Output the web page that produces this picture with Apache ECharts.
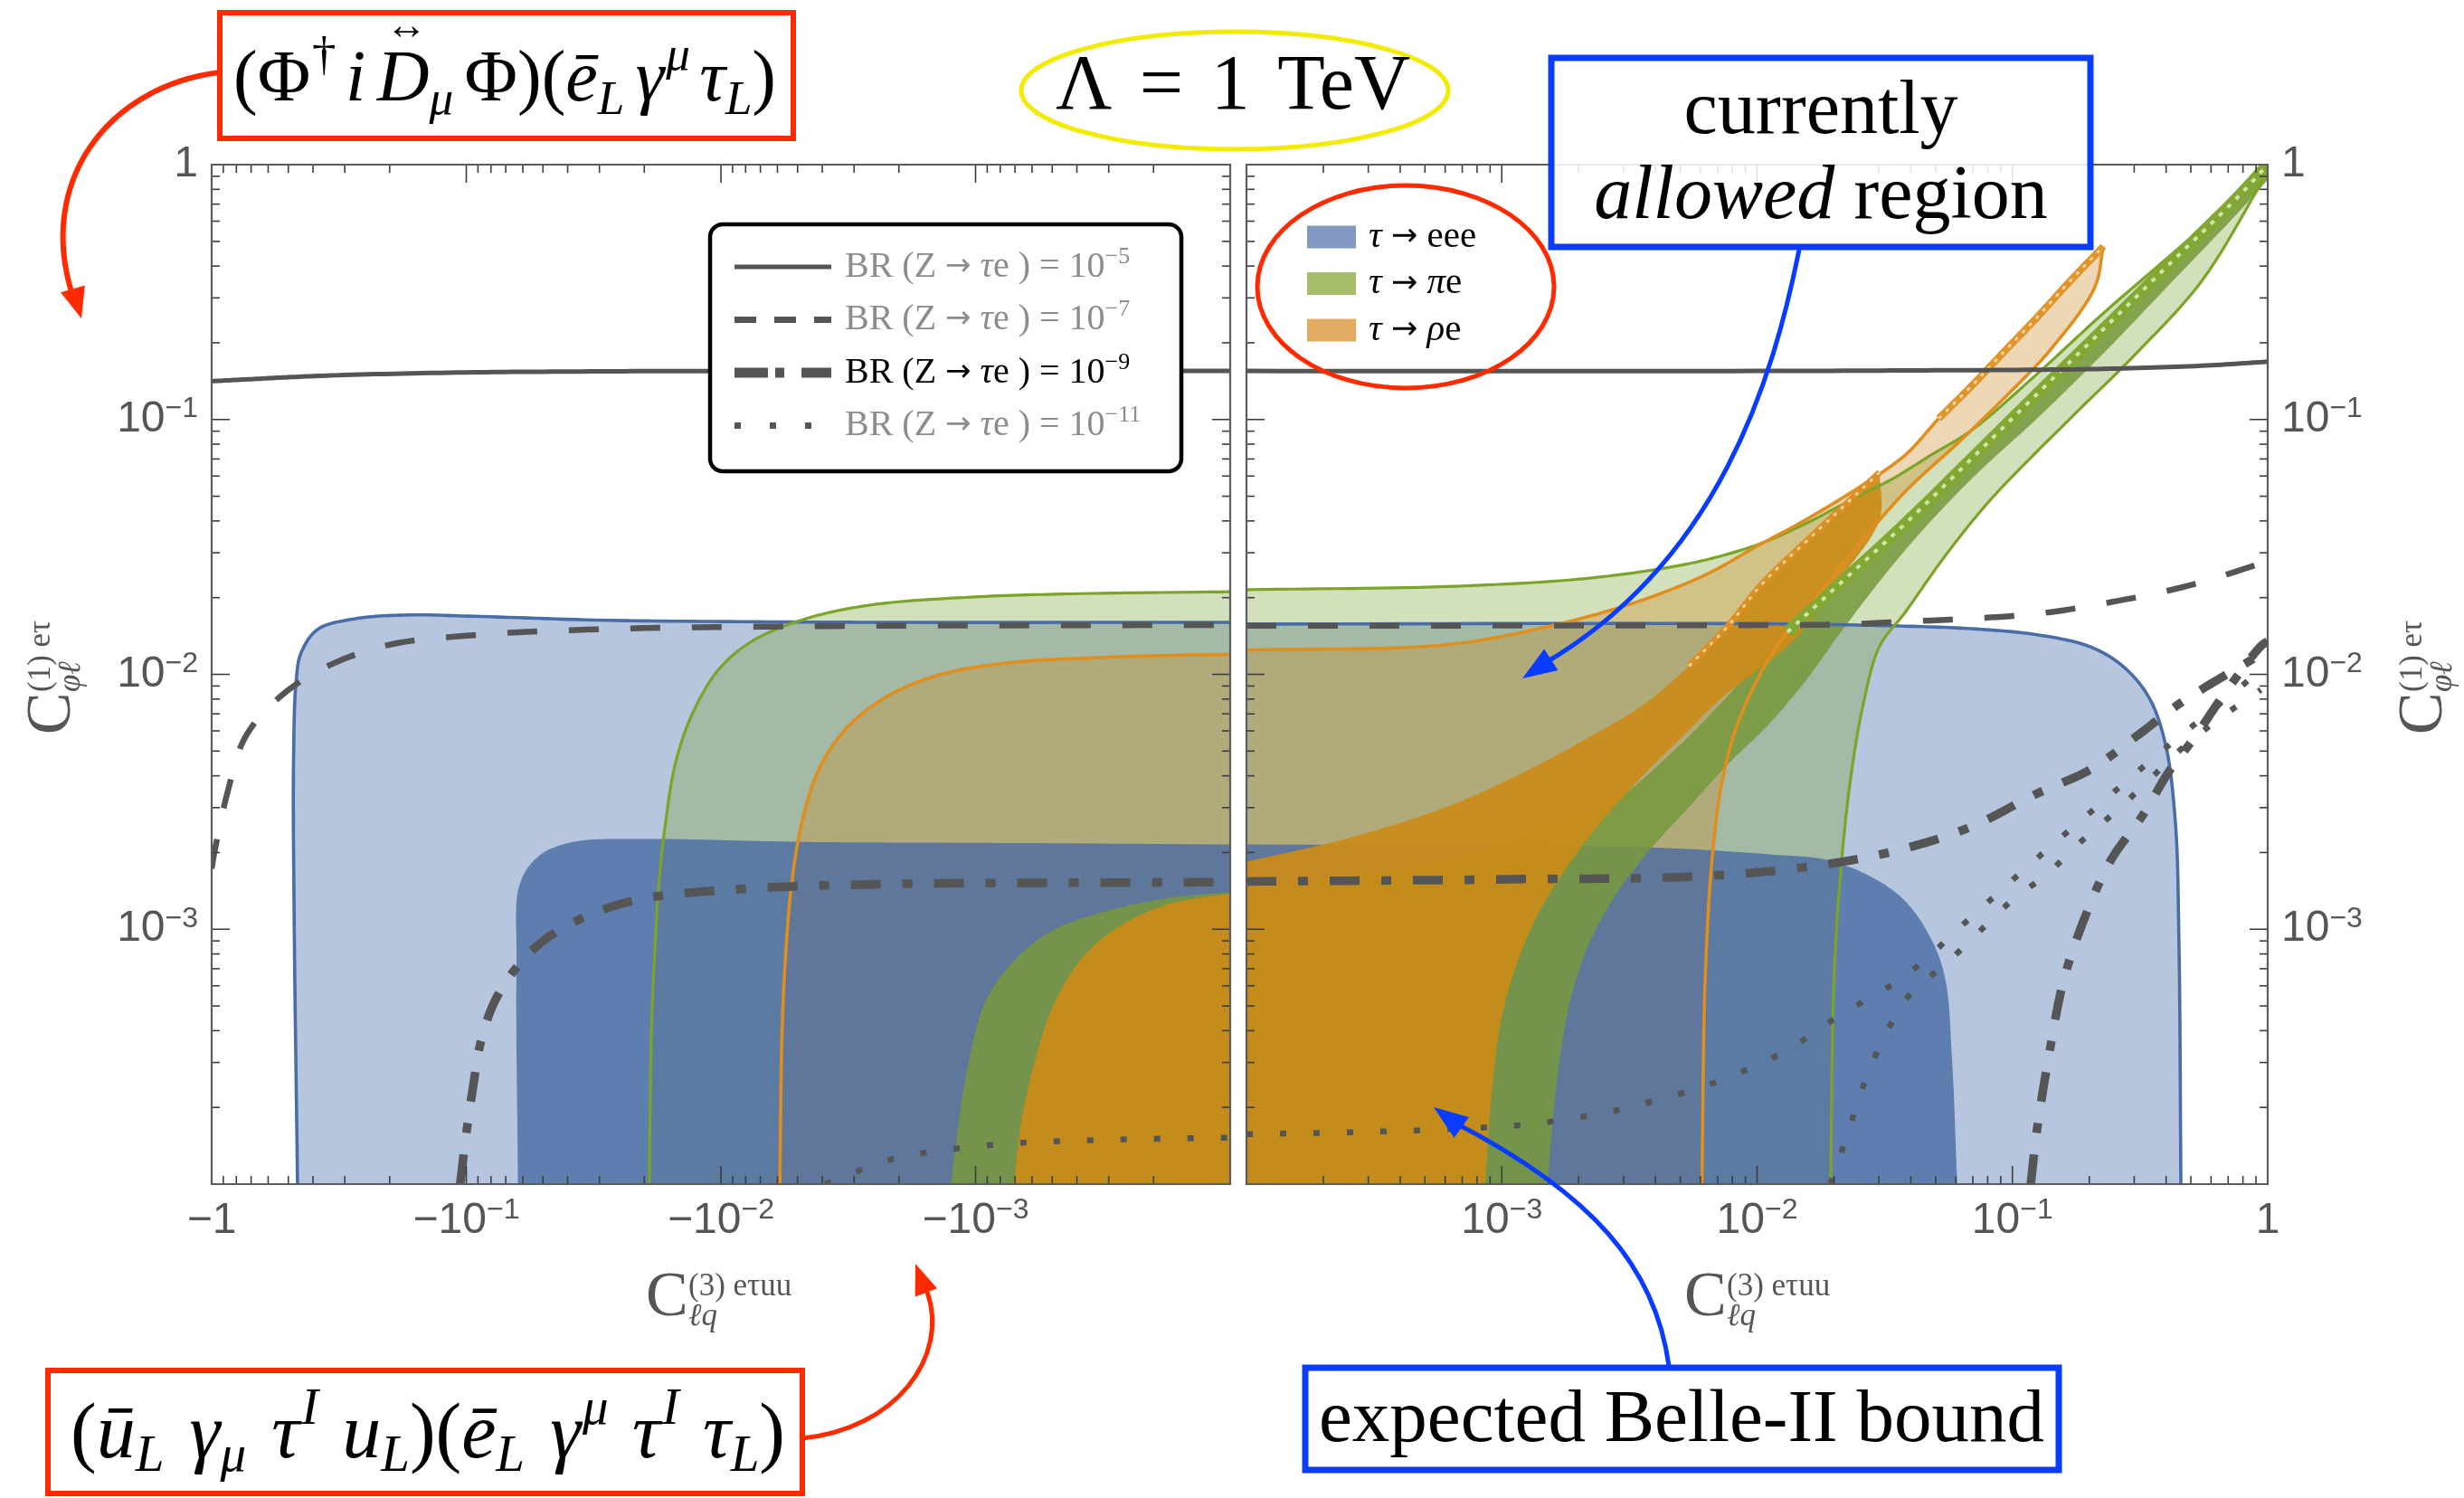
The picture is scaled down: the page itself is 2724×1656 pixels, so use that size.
<!DOCTYPE html>
<html>
<head>
<meta charset="utf-8">
<title>LFV Z couplings vs tau decays</title>
<script src="https://cdn.jsdelivr.net/npm/echarts/dist/echarts.min.js"></script>
<style>
  html, body { margin: 0; padding: 0; background: #ffffff; }
  #chart { width: 2724px; height: 1656px; }
</style>
</head>
<body>
<div id="chart"></div>
<script>
// ----------------------------------------------------------------------------
// Data. Both panels share log axes from 1e-4 to 1. In the left panel the
// x values are the magnitude of the (negative) coefficient C_lq^(3).
// Every curve is a list of [x, y] pairs.
// ----------------------------------------------------------------------------

// tau -> e e e : present bound (light) and Belle-II projection (dark)
const eeeNowNeg = [[1e-4,0.0160],[2.56e-3,0.0160],[8.5e-3,0.0161],[0.0283,0.0163],[0.0937,0.0169],[0.171,0.0171],[0.276,0.0165],[0.384,0.0150],[0.446,0.0121],[0.466,0.00935],[0.477,0.00452],[0.474,0.00105],[0.46,1e-4]];
const eeeFutNeg = [[1e-4,2.15e-3],[7.73e-4,2.18e-3],[4.67e-3,2.2e-3],[0.0209,2.26e-3],[0.0381,2.2e-3],[0.0515,1.95e-3],[0.0616,1.51e-3],[0.0635,7.3e-4],[0.0627,1e-4]];
const eeeNowPos = [[1e-4,0.01575],[0.01,0.0158],[0.034,0.0155],[0.0693,0.0151],[0.125,0.0143],[0.201,0.01285],[0.271,0.01076],[0.343,8.1e-3],[0.398,5.3e-3],[0.435,2.61e-3],[0.449,9.0e-4],[0.457,1e-4]];
const eeeFutPos = [[1e-4,2.15e-3],[3.56e-3,2.1e-3],[0.0117,1.96e-3],[0.0188,1.87e-3],[0.0285,1.59e-3],[0.0383,1.28e-3],[0.0485,9.0e-4],[0.0547,6.3e-4],[0.058,3.1e-4],[0.0608,1e-4]];

// tau -> pi e
const piNowNeg = [[1e-4,0.0211],[4.24e-4,0.0207],[1.04e-3,0.0201],[2.56e-3,0.01874],[4.67e-3,0.0165],[7.55e-3,0.01349],[0.0102,0.01046],[0.01295,7.0e-3],[0.01506,4.52e-3],[0.0165,2.62e-3],[0.0175,1.52e-3],[0.0183,7.3e-4],[0.0188,3.52e-4],[0.0191,1e-4]];
const piFutNeg = [[1e-4,1.4e-3],[1.72e-4,1.33e-3],[3.14e-4,1.17e-3],[5.07e-4,9.8e-4],[7.27e-4,7.3e-4],[9.25e-4,5.08e-4],[1.07e-3,2.94e-4],[1.17e-3,1.7e-4],[1.25e-3,1e-4]];
const piNowPosUpper = [[1e-4,0.0215],[6.03e-4,0.0221],[1.97e-3,0.0236],[4.02e-3,0.0258],[6.45e-3,0.0283],[0.0104,0.0327],[0.0157,0.0393],[0.0238,0.0489],[0.034,0.0586],[0.0485,0.073],[0.0693,0.0908],[0.125,0.151],[0.227,0.261],[0.41,0.435],[0.743,0.73],[1,1]];
const piNowPosLower = [[1,0.935],[0.552,0.35],[0.305,0.1815],[0.1686,0.101],[0.0828,0.0489],[0.0547,0.0293],[0.038,0.0175],[0.0302,0.0129],[0.026,7.57e-3],[0.0231,3.73e-3],[0.0211,1.54e-3],[0.0200,6.35e-4],[0.0194,1e-4]];
const piFutPosUpper = [[1e-4,1.45e-3],[5e-4,1.8e-3],[1.2e-3,2.3e-3],[2.5e-3,3.0e-3],[5e-3,5.3e-3],[0.01315,0.01466],[0.0211,0.0227],[0.0383,0.0393],[0.0693,0.0703],[0.125,0.126],[0.227,0.226],[0.41,0.405],[0.743,0.725],[1,1]];
const piFutPosLower = [[1,0.87],[0.743,0.627],[0.41,0.337],[0.227,0.1815],[0.125,0.101],[0.0693,0.0586],[0.0383,0.031],[0.0211,0.0145],[0.0157,9.6e-3],[0.011,6.3e-3],[7.7e-3,4.45e-3],[5.4e-3,3.01e-3],[3.79e-3,2.04e-3],[2.82e-3,1.38e-3],[2.22e-3,9.0e-4],[1.86e-3,5.3e-4],[1.65e-3,2.62e-4],[1.51e-3,1e-4]];

// tau -> rho e
const rhoNowNeg = [[1e-4,0.0120],[3.14e-4,0.01166],[7.73e-4,0.01105],[1.41e-3,9.9e-3],[2.27e-3,8.1e-3],[3.26e-3,6.05e-3],[4.14e-3,4.2e-3],[4.81e-3,2.62e-3],[5.27e-3,1.52e-3],[5.6e-3,7.3e-4],[5.77e-3,3.52e-4],[5.87e-3,1e-4]];
const rhoFutNeg = [[1e-4,1.38e-3],[1.72e-4,1.26e-3],[2.62e-4,1.05e-3],[3.76e-4,7.86e-4],[4.93e-4,5.08e-4],[5.9e-4,2.94e-4],[6.65e-4,1.7e-4],[7.06e-4,1e-4]];
const rhoNowPosUpper = [[1e-4,0.01245],[6.0e-4,0.01306],[1.56e-3,0.0155],[3.57e-3,0.0196],[6.45e-3,0.0249],[9.8e-3,0.0315],[0.0157,0.0407],[0.0253,0.0545],[0.0383,0.073],[0.0515,0.101],[0.0693,0.1356],[0.093,0.185],[0.125,0.252],[0.1686,0.35],[0.227,0.477]];
const rhoNowPosLower = [[0.227,0.477],[0.21,0.33],[0.141,0.188],[0.093,0.1215],[0.0615,0.0813],[0.0383,0.0525],[0.0253,0.0327],[0.0167,0.0195],[0.0117,0.0125],[8.44e-3,6.5e-3],[7.27e-3,3.73e-3],[6.65e-3,1.84e-3],[6.26e-3,6.35e-4],[6.08e-3,1e-4]];
const rhoFutPosUpper = [[1e-4,1.84e-3],[2.47e-4,2.27e-3],[6.03e-4,3.01e-3],[1.23e-3,4.15e-3],[2.22e-3,5.7e-3],[3.57e-3,7.57e-3],[5.41e-3,0.0108],[7.7e-3,0.0155],[0.0104,0.0225],[0.0167,0.0355],[0.0253,0.0525],[0.0302,0.062]];
const rhoFutPosLower = [[0.0302,0.062],[0.0302,0.0407],[0.0211,0.0236],[0.01397,0.01365],[7.28e-3,8.1e-3],[5.1e-3,5.7e-3],[3.57e-3,4.0e-3],[2.5e-3,2.71e-3],[1.86e-3,1.84e-3],[1.42e-3,1.2e-3],[1.16e-3,7.6e-4],[9.97e-4,4.46e-4],[9.1e-4,2.19e-4],[8.6e-4,1e-4]];

// BR(Z -> tau e) contours
const br5Neg  = [[1,0.1414],[0.7,0.1440],[0.5,0.1465],[0.3,0.1495],[0.1,0.1530],[0.03,0.1545],[0.01,0.1550],[1e-4,0.1550]];
const br5Pos  = [[1e-4,0.155],[0.01,0.155],[0.05,0.156],[0.1,0.1565],[0.227,0.158],[0.55,0.1625],[1,0.1686]];
const br7Neg  = [[1,1.73e-3],[0.973,2.03e-3],[0.863,3.5e-3],[0.743,5.6e-3],[0.568,7.8e-3],[0.372,0.01046],[0.205,0.0130],[0.0937,0.01425],[0.0283,0.01506],[4.67e-3,0.01544],[1e-4,0.01563]];
const br7Pos  = [[1e-4,0.0155],[0.01,0.0156],[0.021,0.0157],[0.038,0.0161],[0.125,0.0173],[0.271,0.0196],[0.49,0.0223],[0.94,0.0273],[1,0.0280]];
const br9Neg  = [[0.1057,1e-4],[0.1,1.58e-4],[0.0938,2.45e-4],[0.0883,3.52e-4],[0.0783,5.08e-4],[0.0655,6.8e-4],[0.0515,8.77e-4],[0.0359,1.094e-3],[0.0209,1.31e-3],[8.5e-3,1.435e-3],[2.56e-3,1.5e-3],[1e-4,1.53e-3]];
const br9Pos  = [[1e-4,1.54e-3],[1.09e-3,1.57e-3],[6.45e-3,1.62e-3],[0.0188,1.8e-3],[0.0383,2.08e-3],[0.0693,2.53e-3],[0.125,3.41e-3],[0.201,4.22e-3],[0.305,5.7e-3],[0.462,7.8e-3],[0.94,0.012],[1,0.0125]];
const br9PosB = [[0.118,1e-4],[0.125,1.65e-4],[0.141,3.47e-4],[0.159,6.35e-4],[0.19,1.08e-3],[0.241,1.84e-3],[0.324,2.8e-3],[0.41,4.15e-3],[0.52,5.7e-3],[0.66,8.1e-3],[0.94,0.0129],[1,0.0135]];
const br11Neg = [[3.9e-3,1e-4],[3.07e-3,1.1e-4],[2.27e-3,1.23e-4],[1.64e-3,1.32e-4],[8.97e-4,1.42e-4],[5.07e-4,1.47e-4],[1.13e-4,1.52e-4],[1e-4,1.52e-4]];
const br11Pos = [[1e-4,1.57e-4],[2.79e-4,1.6e-4],[6.78e-4,1.65e-4],[1.23e-3,1.71e-4],[2.5e-3,1.9e-4],[4.53e-3,2.2e-4],[7.7e-3,2.62e-4],[0.01315,3.36e-4],[0.0211,4.6e-4],[0.0383,6.6e-4],[0.0693,1.12e-3],[0.125,1.9e-3],[0.227,3.18e-3],[0.365,4.78e-3],[0.586,7.05e-3],[0.94,0.0104],[1,0.011]];
const br11PosB = [[0.01936,1e-4],[0.02244,1.54e-4],[0.0268,2.62e-4],[0.033,4.15e-4],[0.0406,5.7e-4],[0.0547,7.3e-4],[0.0735,9.7e-4],[0.0989,1.29e-3],[0.137,1.65e-3],[0.184,2.19e-3],[0.255,2.91e-3],[0.344,3.86e-3],[0.462,5.13e-3],[0.659,6.8e-3],[0.94,8.7e-3]];

// Legend entries
const brLegend = [
  { exp: '\u22125',  dash: null,            width: 5,  dark: false },
  { exp: '\u22127',  dash: [24, 20],        width: 7,  dark: false },
  { exp: '\u22129',  dash: [37, 8, 10, 19], width: 11, dark: true  },
  { exp: '\u221211', dash: [7, 32],         width: 7,  dark: false }
];
const decayLegend = [
  { meson: '',       fin: 'eee', color: '#8299c1' },
  { meson: '\u03c0', fin: 'e',   color: '#a6be6a' },
  { meson: '\u03c1', fin: 'e',   color: '#e2ad62' }
];

// ----------------------------------------------------------------------------
// Styling
// ----------------------------------------------------------------------------
const SERIF = "'Liberation Serif', 'DejaVu Serif', 'Times New Roman', serif";
const SANS  = "'Liberation Sans', Arial, sans-serif";
const ARROWF = "'DejaVu Sans', sans-serif";
const GRAY  = '#555555';
const FRAME = '#5c5c5c';
const COL = {
  eeeNow: 'rgba(94,129,181,0.45)',
  piNow:  'rgba(122,160,51,0.33)',
  rhoNow: 'rgba(205,140,40,0.35)',
  eeeFut: 'rgba(70,105,163,0.78)',
  piFut:  'rgba(119,153,60,0.86)',
  rhoFut: 'rgba(203,140,23,0.92)',
  eeeLine: '#4a6da8',
  piLine:  '#7ca428',
  rhoLine: '#e08f1e',
  br: '#555555'
};

const LO = 1e-4, HI = 1;
const GRIDS = [
  { left: 234,  top: 182, width: 1126, height: 1127 },
  { left: 1378, top: 182, width: 1129, height: 1127 }
];

// Centripetal Catmull-Rom through pixel points, for smooth drawing.
function smoothPx(pts) {
  if (pts.length < 3) return pts.slice();
  const n = pts.length;
  const P = [[2 * pts[0][0] - pts[1][0], 2 * pts[0][1] - pts[1][1]]].concat(pts,
            [[2 * pts[n - 1][0] - pts[n - 2][0], 2 * pts[n - 1][1] - pts[n - 2][1]]]);
  const dist = (a, b) => Math.max(Math.pow(Math.hypot(b[0] - a[0], b[1] - a[1]), 0.5), 1e-3);
  const out = [];
  for (let i = 1; i < P.length - 2; i++) {
    const p0 = P[i - 1], p1 = P[i], p2 = P[i + 1], p3 = P[i + 2];
    const t0 = 0, t1 = t0 + dist(p0, p1), t2 = t1 + dist(p1, p2), t3 = t2 + dist(p2, p3);
    const steps = 14;
    for (let s = 0; s < steps; s++) {
      const t = t1 + (t2 - t1) * s / steps;
      const L = (a, b, ta, tb) => [((tb - t) * a[0] + (t - ta) * b[0]) / (tb - ta), ((tb - t) * a[1] + (t - ta) * b[1]) / (tb - ta)];
      const A1 = L(p0, p1, t0, t1), A2 = L(p1, p2, t1, t2), A3 = L(p2, p3, t2, t3);
      const B1 = L(A1, A2, t0, t2), B2 = L(A2, A3, t1, t3);
      out.push(L(B1, B2, t1, t2));
    }
  }
  out.push(pts[n - 1]);
  return out;
}

// Filled region: boundary pieces followed by the corner at (1e-4, 1e-4).
function region(gi, lists, fill, z) {
  return {
    type: 'custom', coordinateSystem: 'cartesian2d', xAxisIndex: gi, yAxisIndex: gi,
    z: z, silent: true, clip: true, animation: false,
    data: [].concat(...lists),
    renderItem(params, api) {
      if (params.dataIndex !== 0) return null;
      let pts = [];
      lists.forEach(l => { pts = pts.concat(smoothPx(l.map(p => api.coord(p)))); });
      pts.push(api.coord([LO, LO]));
      return { type: 'polygon', shape: { points: pts }, style: { fill: fill } };
    }
  };
}

// Stroked curve.
function curve(gi, pts, style, z) {
  return {
    type: 'custom', coordinateSystem: 'cartesian2d', xAxisIndex: gi, yAxisIndex: gi,
    z: z, silent: true, clip: true, animation: false,
    data: pts,
    renderItem(params, api) {
      if (params.dataIndex !== 0) return null;
      const px = smoothPx(pts.map(p => api.coord(p)));
      return { type: 'polyline', shape: { points: px },
               style: Object.assign({ fill: 'none', lineCap: 'butt', lineJoin: 'round' }, style) };
    }
  };
}

// Frame with logarithmic major and minor ticks on all four sides.
function frame(gi) {
  return {
    type: 'custom', coordinateSystem: 'cartesian2d', xAxisIndex: gi, yAxisIndex: gi,
    z: 60, silent: true, clip: false, animation: false,
    data: [[LO, LO]],
    renderItem(params, api) {
      const a = api.coord([LO, LO]), b = api.coord([HI, HI]);
      const xl = Math.min(a[0], b[0]), xr = Math.max(a[0], b[0]);
      const yt = Math.min(a[1], b[1]), yb = Math.max(a[1], b[1]);
      const kids = [];
      const seg = (x1, y1, x2, y2) => kids.push({ type: 'line', shape: { x1, y1, x2, y2 },
                                                   style: { stroke: '#3d3d3d', lineWidth: 1.6 } });
      for (let k = -4; k <= 0; k++) {
        for (let m = 1; m <= 9; m++) {
          if (k === 0 && m > 1) break;
          const v = m * Math.pow(10, k);
          const len = m === 1 ? 20 : 9;
          const px = api.coord([v, LO])[0];
          const py = api.coord([LO, v])[1];
          seg(px, yb, px, yb - len); seg(px, yt, px, yt + len);
          seg(xl, py, xl + len, py); seg(xr, py, xr - len, py);
        }
      }
      kids.push({ type: 'rect', shape: { x: xl, y: yt, width: xr - xl, height: yb - yt },
                  style: { fill: 'none', stroke: FRAME, lineWidth: 2.2 } });
      return { type: 'group', children: kids };
    }
  };
}

// ----------------------------------------------------------------------------
// Axes
// ----------------------------------------------------------------------------
const labelRich = {
  b: { fontFamily: SANS, fontSize: 48, color: GRAY, lineHeight: 58 },
  s: { fontFamily: SANS, fontSize: 32, color: GRAY, lineHeight: 35, height: 35, verticalAlign: 'top' }
};
function powLabel(v, neg) {
  const e = Math.round(Math.log10(v));
  if (e <= -4) return '';
  const sign = neg ? '\u2212' : '';
  if (e === 0) return '{b|' + sign + '1}';
  return '{b|' + sign + '10}{s|\u2212' + (-e) + '}';
}
function logAxis(gi, pos, extra) {
  return Object.assign({
    type: 'log', logBase: 10, gridIndex: gi, position: pos, min: LO, max: HI, splitNumber: 4,
    axisLine: { show: false }, axisTick: { show: false }, splitLine: { show: false },
    minorTick: { show: false }, minorSplitLine: { show: false }
  }, extra);
}
const xAxes = [
  logAxis(0, 'bottom', { inverse: true,
    axisLabel: { show: true, margin: 12, showMinLabel: true, showMaxLabel: true,
                 formatter: v => powLabel(v, true), rich: labelRich } }),
  logAxis(1, 'bottom', {
    axisLabel: { show: true, margin: 12, showMinLabel: true, showMaxLabel: true,
                 formatter: v => powLabel(v, false), rich: labelRich } })
];
const yAxes = [
  logAxis(0, 'left', {
    axisLabel: { show: true, margin: 15, showMinLabel: true, showMaxLabel: true,
                 formatter: v => powLabel(v, false), rich: labelRich } }),
  logAxis(1, 'right', {
    axisLabel: { show: true, margin: 15, showMinLabel: true, showMaxLabel: true,
                 formatter: v => powLabel(v, false), rich: labelRich } })
];

// ----------------------------------------------------------------------------
// Series
// ----------------------------------------------------------------------------
const lineW = { eee: 3.6, pi: 3.2, rho: 3.6 };
const dashed  = { stroke: COL.br, lineWidth: 6.5, lineDash: [33, 35] };
const dashDot = { stroke: COL.br, lineWidth: 9.5, lineDash: [33, 24, 11, 24] };
const dotted  = { stroke: COL.br, lineWidth: 6.5, lineDash: [7, 30] };
const solid   = { stroke: COL.br, lineWidth: 5 };

const series = [
  // negative C_lq side
  region(0, [eeeNowNeg], COL.eeeNow, 2),
  region(0, [piNowNeg],  COL.piNow,  3),
  region(0, [rhoNowNeg], COL.rhoNow, 4),
  region(0, [eeeFutNeg], COL.eeeFut, 5),
  region(0, [piFutNeg],  COL.piFut,  6),
  region(0, [rhoFutNeg], COL.rhoFut, 7),
  curve(0, eeeNowNeg, { stroke: COL.eeeLine, lineWidth: lineW.eee }, 8),
  curve(0, piNowNeg,  { stroke: COL.piLine,  lineWidth: lineW.pi },  8),
  curve(0, rhoNowNeg, { stroke: COL.rhoLine, lineWidth: lineW.rho }, 8),
  curve(0, br5Neg,  solid,   10),
  curve(0, br7Neg,  dashed,  10),
  curve(0, br9Neg,  dashDot, 10),
  curve(0, br11Neg, dotted,  10),
  frame(0),

  // positive C_lq side
  region(1, [eeeNowPos], COL.eeeNow, 2),
  region(1, [piNowPosUpper, piNowPosLower],   COL.piNow,  3),
  region(1, [rhoNowPosUpper, rhoNowPosLower], COL.rhoNow, 4),
  region(1, [eeeFutPos], COL.eeeFut, 5),
  region(1, [piFutPosUpper, piFutPosLower],   COL.piFut,  6),
  region(1, [rhoFutPosUpper, rhoFutPosLower], COL.rhoFut, 7),
  curve(1, eeeNowPos,      { stroke: COL.eeeLine, lineWidth: lineW.eee }, 8),
  curve(1, piNowPosUpper,  { stroke: COL.piLine,  lineWidth: lineW.pi },  8),
  curve(1, piNowPosLower,  { stroke: COL.piLine,  lineWidth: lineW.pi },  8),
  curve(1, rhoNowPosUpper, { stroke: COL.rhoLine, lineWidth: lineW.rho }, 8),
  curve(1, rhoNowPosLower, { stroke: COL.rhoLine, lineWidth: lineW.rho }, 8),
  // meshed edges of the narrow bands
  curve(1, piFutPosUpper.slice(5),  { stroke: '#82a833', lineWidth: 13 }, 9),
  curve(1, piFutPosUpper.slice(5),  { stroke: '#d2e3ab', lineWidth: 4, lineDash: [5, 8] }, 9),
  curve(1, rhoNowPosUpper.slice(9), { stroke: '#e0952a', lineWidth: 8 }, 9),
  curve(1, rhoNowPosUpper.slice(9), { stroke: '#f7d6a6', lineWidth: 3, lineDash: [4, 7] }, 9),
  curve(1, rhoFutPosUpper.slice(6), { stroke: '#d98f22', lineWidth: 7 }, 9),
  curve(1, rhoFutPosUpper.slice(6), { stroke: '#f3cf98', lineWidth: 3, lineDash: [4, 7] }, 9),
  curve(1, br5Pos,   solid,   10),
  curve(1, br7Pos,   dashed,  10),
  curve(1, br9Pos,   dashDot, 10),
  curve(1, br9PosB,  dashDot, 10),
  curve(1, br11Pos,  dotted,  10),
  curve(1, br11PosB, dotted,  10),
  frame(1)
];

// ----------------------------------------------------------------------------
// Annotations, legends and axis titles
// ----------------------------------------------------------------------------
const g = [];
const Z = 100;
const measureCtx = document.createElement('canvas').getContext('2d');
function fontStr(size, italic, fam) { return (italic ? 'italic ' : 'normal ') + size + 'px ' + (fam || SERIF); }

function txt(x, y, text, rich, extra) {
  return { type: 'text', x, y, z: Z, silent: true,
    style: Object.assign({ text, rich, align: 'center', verticalAlign: 'middle',
                           textAlign: 'center', textVerticalAlign: 'middle' }, extra || {}) };
}
function plain(x, y, text, size, italic, color, align, fam) {
  return { type: 'text', x, y, z: Z, silent: true,
    style: { text, fontFamily: fam || SERIF, fontSize: size, fontStyle: italic ? 'italic' : 'normal',
             fill: color, align: align || 'left', verticalAlign: 'middle',
             textAlign: align || 'left', textVerticalAlign: 'middle' } };
}

// A row of math tokens: [text, kind]; kinds n / i (base), P / p (superscript
// upright / italic), B / b (subscript upright / italic). Extra space is spread
// between base tokens (not next to brackets) so the row spans the given width.
function mathRow(cx, cy, toks, size, width, color, over) {
  const small = Math.round(size * 0.66);
  const items = toks.map(([t, k]) => {
    const sup = k === 'p' || k === 'P', sub = k === 'b' || k === 'B';
    const it = k === 'i' || k === 'p' || k === 'b';
    const fs = (sup || sub) ? small : size;
    measureCtx.font = fontStr(fs, it);
    return { t, fs, it, sup, sub, w: measureCtx.measureText(t).width };
  });
  let lastBase = null;
  items.forEach(a => {
    a.gapBefore = false;
    if (a.sup || a.sub) return;
    if (lastBase !== null && a.t !== ')' && a.t !== '(' && lastBase.t !== '(') a.gapBefore = true;
    lastBase = a;
  });
  const W = items.reduce((s, a) => s + a.w, 0);
  const nGaps = items.filter(a => a.gapBefore).length;
  const gap = width && nGaps ? Math.max(0, (width - W) / nGaps) : 0;
  let x = cx - (W + gap * nGaps) / 2;
  items.forEach((a, i) => {
    if (a.gapBefore) x += gap;
    let y = cy;
    if (a.sup) y = cy - size * 0.34; else if (a.sub) y = cy + size * 0.27;
    g.push(plain(x + (a.sup ? 2 : 0), y, a.t, a.fs, a.it, color));
    if (over && over.index === i) g.push(plain(x + a.w / 2 + 4, cy - size * 0.74, over.text, over.size, false, color, 'center'));
    x += a.w;
  });
}

function arrowHead(tip, from, len, wid, color) {
  const dx = tip[0] - from[0], dy = tip[1] - from[1];
  const d = Math.hypot(dx, dy), ux = dx / d, uy = dy / d;
  const bx = tip[0] - ux * len, by = tip[1] - uy * len;
  return { type: 'polygon', z: Z, silent: true,
    shape: { points: [tip, [bx - uy * wid / 2, by + ux * wid / 2], [bx + uy * wid / 2, by - ux * wid / 2]] },
    style: { fill: color } };
}
function bez(p0, c1, c2, p3, color, w) {
  return { type: 'bezierCurve', z: Z, silent: true,
    shape: { x1: p0[0], y1: p0[1], cpx1: c1[0], cpy1: c1[1], cpx2: c2[0], cpy2: c2[1], x2: p3[0], y2: p3[1] },
    style: { stroke: color, lineWidth: w, fill: 'none' } };
}

// operator boxes (red)
const RED = '#ff2a00';
g.push({ type: 'rect', z: Z, silent: true, shape: { x: 243, y: 14, width: 634, height: 139 },
         style: { fill: '#ffffff', stroke: RED, lineWidth: 6 } });
mathRow(558, 90, [['(', 'n'], ['\u03a6', 'n'], ['\u2020', 'P'], ['i', 'i'], ['D', 'i'], ['\u03bc', 'b'],
                  ['\u03a6', 'n'], [')', 'n'], ['(', 'n'], ['\u0113', 'i'], ['L', 'b'], ['\u03b3', 'i'],
                  ['\u03bc', 'p'], ['\u03c4', 'i'], ['L', 'b'], [')', 'n']],
        80, 600, '#000', { index: 4, text: '\u2194', size: 46 });
g.push(bez([243, 80], [120, 95], [40, 200], [80, 326], RED, 6));
g.push(arrowHead([90, 352], [80, 318], 34, 28, RED));

g.push({ type: 'rect', z: Z, silent: true, shape: { x: 53, y: 1515, width: 834, height: 136 },
         style: { fill: '#ffffff', stroke: RED, lineWidth: 6 } });
mathRow(473, 1588, [['(', 'n'], ['\u016b', 'i'], ['L', 'b'], ['\u03b3', 'i'], ['\u03bc', 'b'], ['\u03c4', 'i'],
                    ['I', 'p'], ['u', 'i'], ['L', 'b'], [')', 'n'], ['(', 'n'], ['\u0113', 'i'], ['L', 'b'],
                    ['\u03b3', 'i'], ['\u03bc', 'p'], ['\u03c4', 'i'], ['I', 'p'], ['\u03c4', 'i'], ['L', 'b'], [')', 'n']],
        86, 790, '#000');
g.push(bez([887, 1590], [990, 1580], [1050, 1500], [1025, 1428], RED, 5));
g.push(arrowHead([1012, 1397], [1025, 1432], 34, 26, RED));

// scale of new physics
g.push({ type: 'ellipse', z: Z, silent: true, shape: { cx: 1365, cy: 100, rx: 236, ry: 65 },
         style: { fill: 'none', stroke: '#f4ec00', lineWidth: 5 } });
mathRow(1363, 97, [['\u039b', 'n'], ['=', 'n'], ['1', 'n'], ['TeV', 'n']], 86, 392, '#000');

// highlighted regions (blue)
const BLUE = '#0a3cff';
g.push({ type: 'rect', z: Z, silent: true, shape: { x: 1715, y: 64, width: 596, height: 209 },
         style: { fill: 'rgba(255,255,255,0.86)', stroke: BLUE, lineWidth: 7 } });
const boxRich = {
  n: { fontFamily: SERIF, fontSize: 84, fill: '#000', lineHeight: 96 },
  i: { fontFamily: SERIF, fontSize: 84, fill: '#000', fontStyle: 'italic', lineHeight: 96 }
};
g.push(txt(2013, 125, '{n|currently}', boxRich));
g.push(txt(2013, 219, '{i|allowed}{n| region}', boxRich));
g.push(bez([1989, 276], [1960, 420], [1900, 620], [1708, 733], BLUE, 5));
g.push(arrowHead([1683, 750], [1712, 731], 38, 28, BLUE));

g.push({ type: 'rect', z: Z, silent: true, shape: { x: 1443, y: 1512, width: 833, height: 113 },
         style: { fill: '#ffffff', stroke: BLUE, lineWidth: 7 } });
g.push(txt(1859, 1571, '{n|expected Belle-II bound}', {
  n: { fontFamily: SERIF, fontSize: 83, fill: '#000', lineHeight: 96 } }));
g.push(bez([1845, 1510], [1830, 1400], [1760, 1320], [1610, 1242], BLUE, 5));
g.push(arrowHead([1585, 1224], [1614, 1245], 38, 28, BLUE));

// BR(Z -> tau e) legend
g.push({ type: 'rect', z: Z, silent: true, shape: { x: 785, y: 248, width: 521, height: 273, r: 14 },
         style: { fill: '#ffffff', stroke: '#000', lineWidth: 4.5 } });
brLegend.forEach((e, k) => {
  const y = 295 + k * 58.5;
  const st = { stroke: COL.br, lineWidth: e.width, lineCap: 'butt' };
  if (e.dash) st.lineDash = e.dash;
  g.push({ type: 'line', z: Z + 1, silent: true, shape: { x1: 812, y1: y, x2: 919, y2: y }, style: st });
  const c = e.dark ? '#000' : '#8c8c8c';
  const r = {
    n: { fontFamily: SERIF, fontSize: 40, fill: c, lineHeight: 52 },
    i: { fontFamily: SERIF, fontSize: 40, fill: c, fontStyle: 'italic', lineHeight: 52 },
    a: { fontFamily: ARROWF, fontSize: 34, fill: c, lineHeight: 52 },
    s: { fontFamily: SERIF, fontSize: 26, fill: c, verticalAlign: 'top', height: 30, lineHeight: 30 }
  };
  g.push(txt(934, y, '{n|BR (Z }{a|\u2192}{n| }{i|\u03c4}{n|e ) = 10}{s|' + e.exp + '}', r,
             { align: 'left', textAlign: 'left' }));
});

// decay-mode legend
g.push({ type: 'ellipse', z: Z, silent: true, shape: { cx: 1554, cy: 317, rx: 164, ry: 112 },
         style: { fill: 'none', stroke: RED, lineWidth: 5 } });
decayLegend.forEach((e, k) => {
  const y = 262 + k * 51.5;
  g.push({ type: 'rect', z: Z + 1, silent: true, shape: { x: 1445, y: y - 12.5, width: 54, height: 25 },
           style: { fill: e.color } });
  const r = {
    n: { fontFamily: SERIF, fontSize: 41, fill: '#000', lineHeight: 46 },
    i: { fontFamily: SERIF, fontSize: 41, fill: '#000', fontStyle: 'italic', lineHeight: 46 },
    a: { fontFamily: ARROWF, fontSize: 35, fill: '#000', lineHeight: 46 }
  };
  const mes = e.meson ? '{i|' + e.meson + '}' : '';
  g.push(txt(1513, y, '{i|\u03c4}{n| }{a|\u2192}{n| }' + mes + '{n|' + e.fin + '}', r,
             { align: 'left', textAlign: 'left' }));
});

// axis titles: C with stacked super- and subscript
function coefTitle(x, y, sup, sub, rot) {
  const kid = (px, py, text, size, italic) => ({ type: 'text', x: px, y: py, silent: true,
    style: { text, fontFamily: SERIF, fontSize: size, fontStyle: italic ? 'italic' : 'normal', fill: GRAY,
             align: 'left', verticalAlign: 'middle', textAlign: 'left', textVerticalAlign: 'middle' } });
  return { type: 'group', x, y, rotation: rot || 0, z: Z, silent: true,
           children: [kid(0, 0, 'C', 70, false), kid(47, -13, sup, 35, false), kid(47, 20, sub, 35, true)] };
}
g.push(coefTitle(714, 1436, '(3) e\u03c4uu', '\u2113q', 0));
g.push(coefTitle(1862, 1436, '(3) e\u03c4uu', '\u2113q', 0));
g.push(coefTitle(59, 812, '(1) e\u03c4', '\u03c6\u2113', Math.PI / 2));
g.push(coefTitle(2681, 812, '(1) e\u03c4', '\u03c6\u2113', Math.PI / 2));

// ----------------------------------------------------------------------------
const chart = echarts.init(document.getElementById('chart'), null,
                           { renderer: 'canvas', width: 2724, height: 1656 });
chart.setOption({
  backgroundColor: '#ffffff',
  animation: false,
  grid: GRIDS.map(r => Object.assign({ containLabel: false, show: false }, r)),
  xAxis: xAxes,
  yAxis: yAxes,
  series: series,
  graphic: { elements: g }
});
</script>
</body>
</html>
